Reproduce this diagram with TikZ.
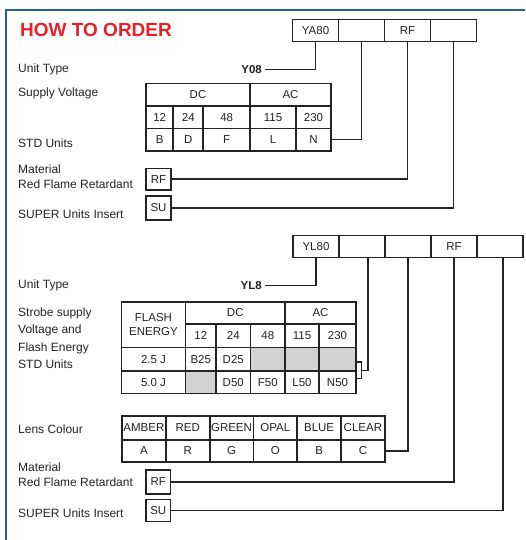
\documentclass[tikz,border=0pt]{standalone}
\usepackage{fontspec}
\setmainfont{Liberation Sans}
\usepackage{tikz}

\definecolor{frameblue}{RGB}{38,98,138}
\definecolor{orderred}{RGB}{232,32,42}
\definecolor{ink}{RGB}{35,35,35}

\tikzset{
  lbl/.style={anchor=west, inner sep=0pt, text=ink, font=\fontsize{12}{14.5}\selectfont},
  code/.style={anchor=east, inner sep=0pt, text=ink, font=\bfseries\fontsize{11.5}{14}\selectfont},
  cell/.style={draw=ink, line width=1.8pt, inner sep=0pt, outer sep=0pt, text=ink, font=\fontsize{11.5}{13}\selectfont},
  shade/.style={cell, fill=gray!35},
  thinlead/.style={draw=ink, line width=1.1pt},
  thicklead/.style={draw=ink, line width=1.9pt}
}

\begin{document}
\begin{tikzpicture}[x=1pt,y=-1pt]
\useasboundingbox (0,0) rectangle (525,540);
\draw[frameblue, line width=2.4pt] (5.7,540) -- (5.7,10) -- (525,10);
\node[anchor=west, inner sep=0pt, text=orderred, font=\bfseries\fontsize{19}{22}\selectfont] (title) at (20,30) {HOW TO ORDER};

% YA80 order code
\foreach \n/\t [count=\i] in {ya/YA80, yb/, yc/RF, yd/}
  \node[cell, minimum width=46, minimum height=22] (\n) at (269.5+46*\i,30.5) {\t};

\node[lbl] (unitA) at (18,69.5) {Unit Type};
\node[code] (y08) at (262,69.5) {Y08};
\node[lbl] (supA) at (18,93.5) {Supply Voltage};
\node[lbl] (stdA) at (18,143) {STD Units};
\node[lbl, align=left] (matA) at (18,176.5) {Material\\Red Flame Retardant};
\node[lbl] (suA) at (18,214) {SUPER Units Insert};

\node[cell, minimum width=104, minimum height=22.5] (dcA) at (198,94.75) {DC};
\node[cell, minimum width=81, minimum height=22.5] (acA) at (290.5,94.75) {AC};
\foreach \x/\w/\v/\c [count=\i] in {159.65/27.3/12/B, 188.3/30/24/D, 226.65/46.7/48/F, 273/46/115/L, 313.5/35/230/N} {
  \node[cell, minimum width=\w, minimum height=22.5] (volt\i) at (\x,117.25) {\v};
  \node[cell, minimum width=\w, minimum height=22.5] (std\i) at (\x,139.75) {\c};
}
\node[cell, minimum width=25, minimum height=21.5] (rfA) at (158.5,179.25) {RF};
\node[cell, minimum width=25, minimum height=24] (suboxA) at (158.5,208) {SU};

\draw[thicklead] (ya.south) |- ([xshift=3pt]y08.east);
\draw[thinlead] (yb.south) |- (std5.east);
\draw[thicklead] (yc.south) |- (rfA.east);
\draw[thinlead] (yd.south) |- (suboxA.east);

% YL80 order code
\foreach \n/\t [count=\i] in {la/YL80, lb/, lc/, ld/RF, le/}
  \node[cell, minimum width=46, minimum height=22] (\n) at (270+46*\i,246.5) {\t};

\node[lbl] (unitB) at (18,285.5) {Unit Type};
\node[code] (yl8) at (262,285.5) {YL8};
\node[lbl, align=left, font=\fontsize{12}{17.5}\selectfont] (strobeB) at (18,330.5) {Strobe supply\\Voltage and\\Flash Energy};
\node[lbl] (stdB) at (18,364.5) {STD Units};

\node[cell, minimum width=64, minimum height=45.5, align=center, font=\fontsize{11.5}{14}\selectfont] (flash) at (153.5,324.75) {FLASH\\ENERGY};
\node[cell, minimum width=99.5, minimum height=22] (dcB) at (235.25,313) {DC};
\node[cell, minimum width=71, minimum height=22] (acB) at (320.5,313) {AC};
\foreach \x/\w/\v [count=\i] in {200.75/30.5/12, 233.25/34.5/24, 267.75/34.5/48, 302/34/115, 337.5/37/230}
  \node[cell, minimum width=\w, minimum height=23.5] (vB\i) at (\x,335.75) {\v};

\node[cell, minimum width=64, minimum height=23.5] (e25) at (153.5,359.25) {2.5 J};
\node[cell, minimum width=30.5, minimum height=23.5] (b25) at (200.75,359.25) {B25};
\node[cell, minimum width=34.5, minimum height=23.5] (d25) at (233.25,359.25) {D25};
\node[shade, minimum width=34.5, minimum height=23.5] (g48) at (267.75,359.25) {};
\node[shade, minimum width=34, minimum height=23.5] (g115) at (302,359.25) {};
\node[shade, minimum width=37, minimum height=23.5] (g230) at (337.5,359.25) {};

\node[cell, minimum width=64, minimum height=22.5] (e50) at (153.5,382.25) {5.0 J};
\node[shade, minimum width=30.5, minimum height=22.5] (g12) at (200.75,382.25) {};
\node[cell, minimum width=34.5, minimum height=22.5] (d50) at (233.25,382.25) {D50};
\node[cell, minimum width=34.5, minimum height=22.5] (f50) at (267.75,382.25) {F50};
\node[cell, minimum width=34, minimum height=22.5] (l50) at (302,382.25) {L50};
\node[cell, minimum width=37, minimum height=22.5] (n50) at (337.5,382.25) {N50};
\node[cell, fill=white, line width=1.4pt, minimum width=5.5, minimum height=16.5] (brk) at (358.75,370.25) {};

\node[lbl] (lensL) at (18,429) {Lens Colour};
\foreach \t/\c [count=\i] in {AMBER/A, RED/R, GREEN/G, OPAL/O, BLUE/B, CLEAR/C} {
  \node[cell, minimum width=43.8, minimum height=24] (lens\i) at (100.1+43.8*\i,428) {\t};
  \node[cell, minimum width=43.8, minimum height=22] (col\i) at (100.1+43.8*\i,451) {\c};
}

\node[lbl, align=left] (matB) at (18,474.5) {Material\\Red Flame Retardant};
\node[lbl] (suB) at (18,513.5) {SUPER Units Insert};
\node[cell, minimum width=24.5, minimum height=24] (rfB) at (158.25,482) {RF};
\node[cell, minimum width=24.5, minimum height=22] (suboxB) at (158.25,510.5) {SU};

\draw[thicklead] (la.south) |- ([xshift=3pt]yl8.east);
\draw[thinlead] ([xshift=6pt]lb.south) |- (brk.east);
\draw[thicklead] (lc.south) |- (col6.east);
\draw[thinlead] (ld.south) |- (rfB.east);
\draw[thicklead] ([xshift=3pt]le.south) |- (suboxB.east);
\end{tikzpicture}
\end{document}
